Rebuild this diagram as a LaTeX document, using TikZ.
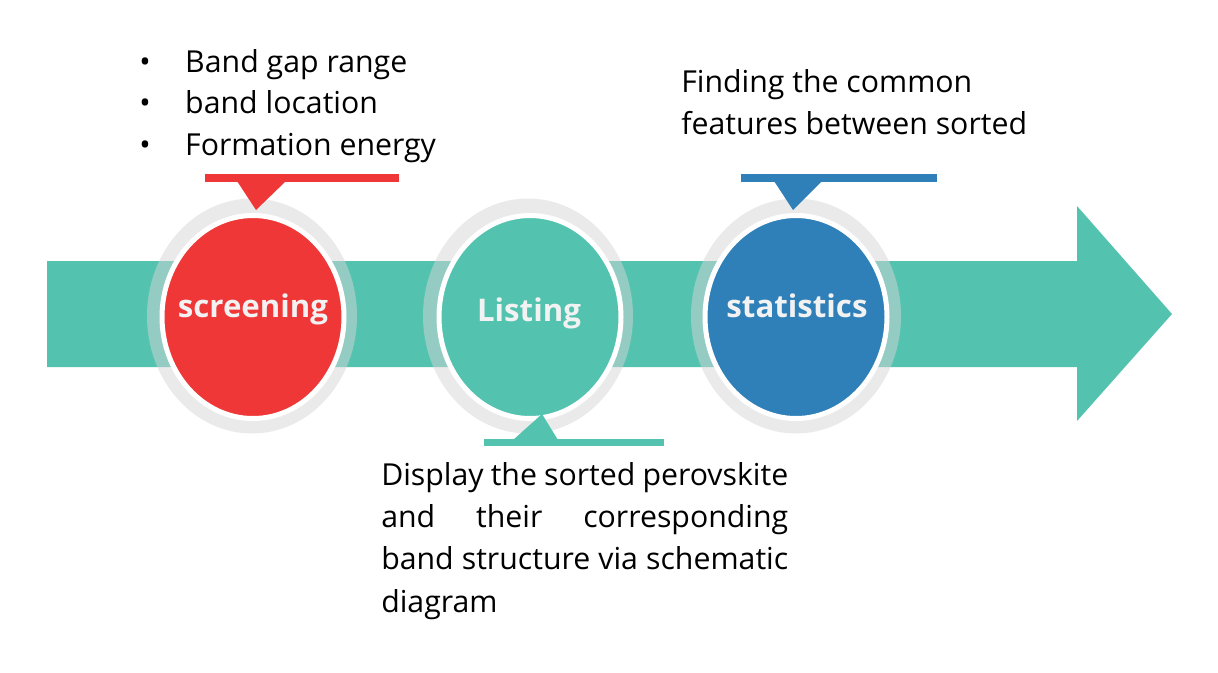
\documentclass[tikz,border=0pt]{standalone}
\usepackage{fontspec}
\setmainfont{Open Sans}
\usetikzlibrary{shapes.geometric,positioning}
\definecolor{screenred}{HTML}{EF3737}
\definecolor{flowteal}{HTML}{53C3B0}
\definecolor{statblue}{HTML}{2F80B8}
\definecolor{ringgray}{HTML}{D6D6D6}
\definecolor{labelwhite}{HTML}{F2F2F2}
\tikzset{
    ring/.style={
        ellipse, fill=ringgray, fill opacity=0.5,
        minimum width=157.5pt, minimum height=176.25pt, inner sep=0pt
    },
    stage/.style={
        ellipse, draw=white, line width=3.75pt,
        minimum width=136.5pt, minimum height=152.25pt, inner sep=0pt
    },
    stage label/.style={
        anchor=base, inner sep=0pt, text=labelwhite,
        font=\fontsize{23.4}{28}\selectfont\bfseries
    },
    note/.style={
        anchor=base west, inner sep=0pt, align=left,
        font=\fontsize{22.7}{31.1}\selectfont
    }
}
\begin{document}
\begin{tikzpicture}[x=0.75pt,y=-0.75pt]
\useasboundingbox (0,0) rectangle (1218,672);
% the big arrow
\fill[flowteal] (47,261) -- (1077,261) -- (1077,206) -- (1172,314)
    -- (1077,421) -- (1077,367) -- (47,367) -- cycle;
% the three stages
\node[ring] (ring1) at (252,316) {};
\node[ring] (ring2) at (528,316) {};
\node[ring] (ring3) at (796,316) {};
\node[stage, fill=screenred] (screening) at (253,317) {};
\node[stage, fill=flowteal] (listing) at (530,317) {};
\node[stage, fill=statblue] (statistics) at (796,317) {};
\node[stage label] (screeningtext) at (253,317) {screening};
\node[stage label] (listingtext) at (529,321) {Listing};
\node[stage label] (statisticstext) at (797,317) {statistics};
% callouts
\fill[screenred] (205,174) rectangle (399,182);
\fill[screenred] (237,181) -- (286,181) -- (256,210) -- cycle;
\fill[statblue] (741,174) rectangle (937,182);
\fill[statblue] (774,181) -- (822,181) -- (793,210) -- cycle;
\fill[flowteal] (484,439) rectangle (664,446);
\fill[flowteal] (513,440) -- (558,440) -- (542,414) -- cycle;
% texts
\node[note] (criteria) at (139,155) {%
    \makebox[34.5pt][l]{\textbullet}Band gap range\\
    \makebox[34.5pt][l]{\textbullet}band location\\
    \makebox[34.5pt][l]{\textbullet}Formation energy};
\node[note] (features) at (681,134) {Finding the common\\features between sorted};
\node[note, font=\fontsize{22.7}{31.7}\selectfont] (display) at (381,612) {%
    \makebox[305.25pt][s]{Display the sorted perovskite}\\
    \makebox[305.25pt][s]{and their corresponding}\\
    \makebox[305.25pt][s]{band structure via schematic}\\
    diagram};
\end{tikzpicture}
\end{document}
